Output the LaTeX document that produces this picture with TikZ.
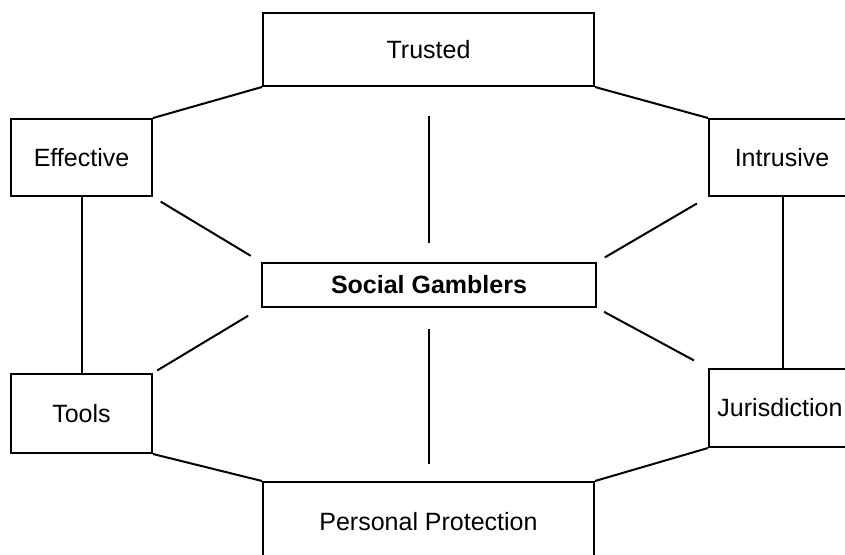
\documentclass[tikz,border=0pt]{standalone}
\usepackage{fontspec}
\setmainfont{Liberation Sans}
\begin{document}
\begin{tikzpicture}[x=1pt,y=-1pt,
  box/.style={draw=black,line width=2pt,fill=white,rectangle,inner sep=0pt,
    font=\fontsize{25}{29}\selectfont},
  link/.style={draw=black,line width=2pt},
]
\useasboundingbox (0,0) rectangle (845,554);
\clip (0,0) rectangle (845,554);
\node[box,minimum width=331pt,minimum height=73pt] (trusted) at (428.5,49.5) {Trusted};
\node[box,minimum width=141pt,minimum height=77pt] (effective) at (81.5,157.5) {Effective};
\node[box,minimum width=146pt,minimum height=77pt] (intrusive) at (782,157.5) {Intrusive};
\node[box,minimum width=141pt,minimum height=79pt] (tools) at (81.5,413.5) {Tools};
\node[box,minimum width=142pt,minimum height=78pt] (juris) at (780,408) {Jurisdiction};
\node[box,minimum width=334pt,minimum height=44pt,font=\fontsize{25}{29}\selectfont\bfseries] (sg) at (429,285) {Social Gamblers};
\node[box,minimum width=331pt,minimum height=80pt] (pp) at (428.5,522) {Personal Protection};

\draw[link] (trusted.south west) -- (effective.north east);
\draw[link] (trusted.south east) -- (intrusive.north west);
\draw[link] (effective.south) -- (tools.north);
\draw[link] (intrusive.south -| 783,0) -- (juris.north -| 783,0);
\draw[link] (tools.south east) -- (pp.north west);
\draw[link] (juris.south west) -- (pp.north east);

\draw[link,shorten <=29pt,shorten >=19pt] (trusted.south -| sg.north) -- (sg.north);
\draw[link,shorten <=21pt,shorten >=17pt] (sg.south) -- (pp.north -| sg.south);
\draw[link,shorten <=9pt,shorten >=12pt] (effective.south east) -- (sg.north west);
\draw[link,shorten <=5pt,shorten >=15pt] (tools.north east) -- (sg.south west);
\draw[link,shorten <=13pt,shorten >=9pt] (intrusive.south west) -- (sg.north east);
\draw[link,shorten <=16pt,shorten >=8pt] (juris.north west) -- (sg.south east);
\end{tikzpicture}
\end{document}
